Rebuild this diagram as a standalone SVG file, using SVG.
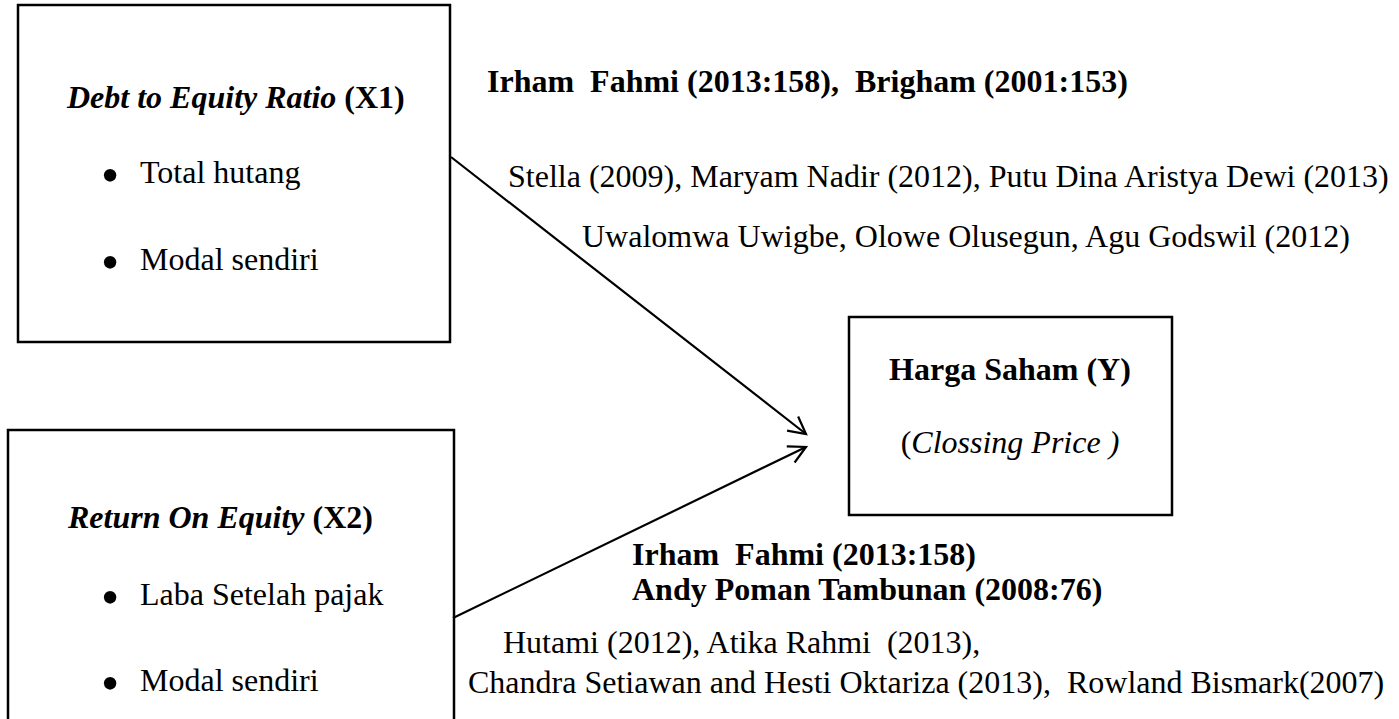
<svg xmlns="http://www.w3.org/2000/svg" width="1399" height="719" viewBox="0 0 1399 719">
<style>
text{font-family:"Liberation Serif","Times New Roman",serif;font-size:32px;fill:#000}
.b{font-weight:bold}
.i{font-style:italic}
.bul{font-size:52px}
.box{fill:none;stroke:#000;stroke-width:2.5}
.conn{stroke:#000;stroke-width:2.2;fill:none}
</style>
<defs>
<marker id="arr" markerUnits="userSpaceOnUse" markerWidth="30" markerHeight="30" refX="0" refY="0" viewBox="-20 -15 25 30" orient="auto">
<path d="M-17,-9 L0,0 L-17,9" fill="none" stroke="#000" stroke-width="2.2"/>
</marker>
</defs>
<rect width="1399" height="719" fill="#fff"/>
<g id="node-x1">
<rect class="box" x="18" y="5" width="432" height="337"/>
<text x="67" y="108"><tspan class="b i">Debt to Equity Ratio</tspan><tspan class="b"> (X1)</tspan></text>
<text class="bul" x="101" y="193">•</text>
<text x="140" y="183">Total hutang</text>
<text class="bul" x="101" y="280">•</text>
<text x="140" y="270">Modal sendiri</text>
</g>
<g id="node-x2">
<rect class="box" x="8" y="430" width="446" height="310"/>
<text x="68" y="528"><tspan class="b i">Return On Equity</tspan><tspan class="b"> (X2)</tspan></text>
<text class="bul" x="101" y="615">•</text>
<text x="140" y="605">Laba Setelah pajak</text>
<text class="bul" x="101" y="701">•</text>
<text x="140" y="691">Modal sendiri</text>
</g>
<g id="node-y">
<rect class="box" x="849" y="317" width="323" height="198"/>
<text class="b" x="1010" y="380" text-anchor="middle">Harga Saham (Y)</text>
<text x="1010" y="453" text-anchor="middle">(<tspan class="i">Clossing Price )</tspan></text>
</g>
<g id="connectors">
<line class="conn" x1="451" y1="157" x2="806" y2="434" marker-end="url(#arr)"/>
<line class="conn" x1="453" y1="618" x2="806" y2="447" marker-end="url(#arr)"/>
</g>
<g id="labels-top">
<text class="b" x="487" y="92" xml:space="preserve">Irham  Fahmi (2013:158),  Brigham (2001:153)</text>
<text x="508" y="187">Stella (2009), Maryam Nadir (2012), Putu Dina Aristya Dewi (2013)</text>
<text x="582" y="247">Uwalomwa Uwigbe, Olowe Olusegun, Agu Godswil (2012)</text>
</g>
<g id="labels-bottom">
<text class="b" x="632" y="565" xml:space="preserve">Irham  Fahmi (2013:158)</text>
<text class="b" x="632" y="600">Andy Poman Tambunan (2008:76)</text>
<text x="503" y="653" xml:space="preserve">Hutami (2012), Atika Rahmi  (2013),</text>
<text x="468" y="693" xml:space="preserve">Chandra Setiawan and Hesti Oktariza (2013),  Rowland Bismark(2007)</text>
</g>
</svg>
